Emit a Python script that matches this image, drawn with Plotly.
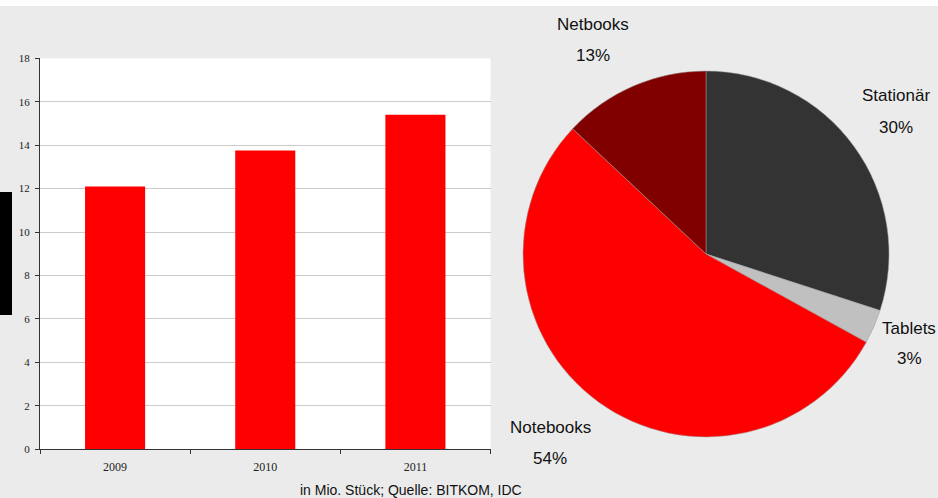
import plotly.graph_objects as go

# ---- data ----
years = ["2009", "2010", "2011"]
units_mio = [12.1, 13.75, 15.4]

segments = ["Stationär", "Tablets", "Notebooks", "Netbooks"]
shares = [30, 3, 54, 13]
segment_colors = ["#333333", "#c0c0c0", "#ff0000", "#800000"]

y_ticks = [0, 2, 4, 6, 8, 10, 12, 14, 16, 18]
caption = "in Mio. Stück; Quelle: BITKOM, IDC"

W, H = 938, 498

def px_x(x):
    return x / W

def px_y(y):
    return 1 - y / H

fig = go.Figure()

fig.add_trace(go.Bar(
    x=years, y=units_mio, marker=dict(color="#ff0000", line=dict(width=0)),
    width=0.4, xaxis="x", yaxis="y", showlegend=False, hoverinfo="x+y"))

fig.add_trace(go.Pie(
    labels=segments, values=shares, sort=False, direction="clockwise",
    rotation=0, marker=dict(colors=segment_colors, line=dict(color="#9a9a9a", width=0.5)),
    textinfo="none", showlegend=False,
    domain=dict(x=[px_x(523), px_x(889)], y=[px_y(437), px_y(71)])))

fig.update_layout(
    width=W, height=H,
    margin=dict(l=0, r=0, t=0, b=0, pad=0, autoexpand=False),
    paper_bgcolor="#ebebeb",
    plot_bgcolor="#ffffff",
    showlegend=False,
    xaxis=dict(domain=[px_x(40), px_x(490.5)], type="category",
               showline=True, linecolor="#333333", linewidth=1.3,
               ticks="outside", tickson="boundaries", ticklen=4, tickcolor="#333333",
               ticklabelstandoff=6,
               tickfont=dict(family="Liberation Serif", size=12, color="#222222"),
               showgrid=False, fixedrange=True, automargin=False),
    yaxis=dict(domain=[px_y(449.3), px_y(58.3)], range=[0, 18],
               tickvals=y_ticks, ticktext=[str(v) for v in y_ticks],
               showline=True, linecolor="#333333", linewidth=1.3,
               ticks="outside", ticklen=4, tickcolor="#333333",
               ticklabelstandoff=3,
               tickfont=dict(family="Liberation Serif", size=11, color="#222222"),
               showgrid=True, gridcolor="#cccccc", gridwidth=1,
               zeroline=False, fixedrange=True, automargin=False),
    font=dict(family="Liberation Sans"),
)

shapes = [
    dict(type="rect", xref="paper", yref="paper",
         x0=0, x1=1, y0=px_y(6), y1=1,
         fillcolor="#ffffff", line=dict(width=0), layer="below"),
    dict(type="rect", xref="paper", yref="paper",
         x0=0, x1=px_x(12), y0=px_y(315), y1=px_y(192),
         fillcolor="#000000", line=dict(width=0)),
]
fig.update_layout(shapes=shapes)

# label positions (pixel centres of name / percentage lines)
label_pos = {
    "Netbooks": (593, 24, 55),
    "Stationär": (896, 96, 127),
    "Tablets": (909, 328, 358),
    "Notebooks": (550, 427, 458),
}
annotations = []
for name, share in zip(segments, shares):
    cx, y1, y2 = label_pos[name]
    annotations.append(dict(text=name, x=px_x(cx), y=px_y(y1), xref="paper", yref="paper",
                            showarrow=False, xanchor="center", yanchor="middle",
                            font=dict(family="Liberation Sans", size=17, color="#111111")))
    annotations.append(dict(text=f"{share}%", x=px_x(cx), y=px_y(y2), xref="paper", yref="paper",
                            showarrow=False, xanchor="center", yanchor="middle",
                            font=dict(family="Liberation Sans", size=17, color="#111111")))
annotations.append(dict(text=caption, x=px_x(411), y=px_y(490), xref="paper", yref="paper",
                        showarrow=False, xanchor="center", yanchor="middle",
                        font=dict(family="Liberation Sans", size=14, color="#111111")))
fig.update_layout(annotations=annotations)

fig.write_html("out.html")
